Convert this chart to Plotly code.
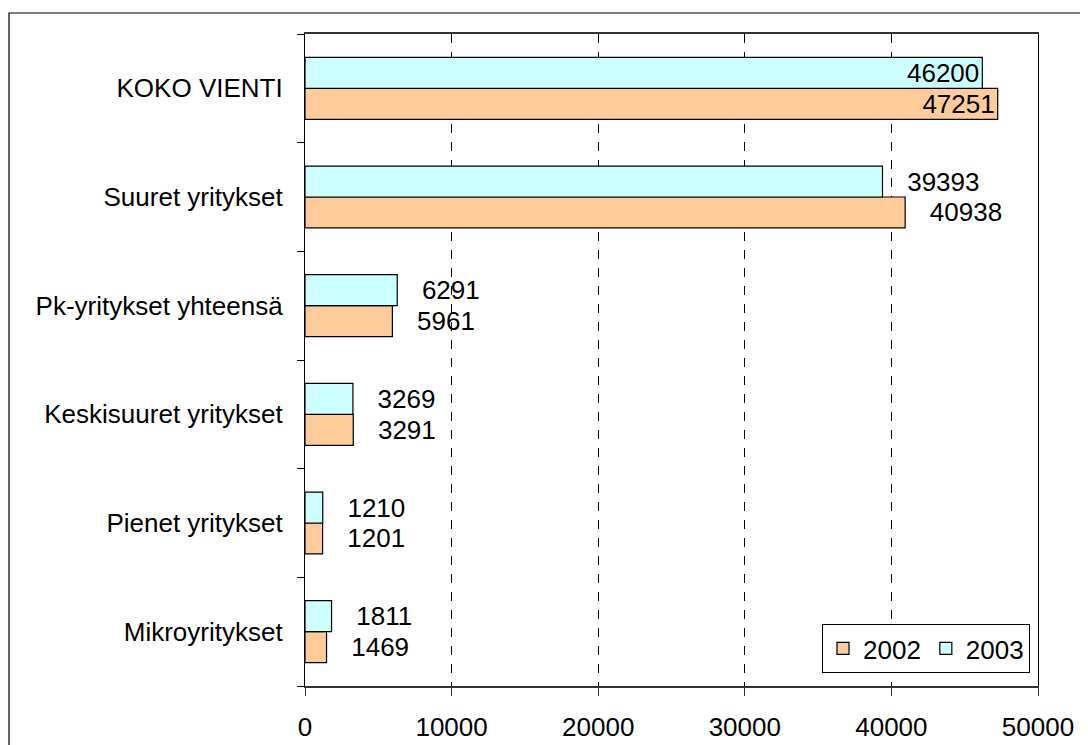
import plotly.graph_objects as go

categories = ["KOKO VIENTI", "Suuret yritykset", "Pk-yritykset yhteensä",
              "Keskisuuret yritykset", "Pienet yritykset", "Mikroyritykset"]
values_2002 = [47251, 40938, 5961, 3291, 1201, 1469]
values_2003 = [46200, 39393, 6291, 3269, 1210, 1811]
x_ticks = [0, 10000, 20000, 30000, 40000, 50000]

FONT = "Liberation Sans, Arial, sans-serif"
FS = 26
PAD = "\u00a0\u00a0\u00a0"

def labels(vals):
    return [str(v) if c == "KOKO VIENTI" else PAD + str(v) for c, v in zip(categories, vals)]

def positions():
    return ["inside" if c == "KOKO VIENTI" else "outside" for c in categories]

fig = go.Figure()
fig.add_trace(go.Bar(
    name="2002", y=categories, x=values_2002, orientation="h",
    marker=dict(color="#FFCC99", line=dict(color="black", width=1.2)),
    text=labels(values_2002), textposition=positions(), insidetextanchor="end",
    textfont=dict(family=FONT, size=FS, color="black"), constraintext="none",
))
fig.add_trace(go.Bar(
    name="2003", y=categories, x=values_2003, orientation="h",
    marker=dict(color="#CCFFFF", line=dict(color="black", width=1.2)),
    text=labels(values_2003), textposition=positions(), insidetextanchor="end",
    textfont=dict(family=FONT, size=FS, color="black"), constraintext="none",
))

OFF = 8  # page body margin
W, H = 1088 - OFF, 745 - OFF
L, R, T, B = 305 - OFF, 1038 - OFF, 34 - OFF, 686 - OFF

def px(x):
    return (x - OFF - L) / (R - L)

def py(y):
    return (B - (y - OFF)) / (B - T)

fig.update_layout(
    width=W, height=H,
    margin=dict(l=L, r=W - R, t=T, b=H - B, pad=0, autoexpand=False),
    paper_bgcolor="white", plot_bgcolor="white",
    barmode="group", bargap=0.43, bargroupgap=0,
    font=dict(family=FONT, size=FS, color="black"),
    showlegend=True,
    legend=dict(orientation="h", x=px(1030), xanchor="right", y=py(673), yanchor="bottom",
                bordercolor="black", borderwidth=1, bgcolor="white",
                font=dict(family=FONT, size=FS, color="black"),
                traceorder="normal", itemwidth=30),
    xaxis=dict(range=[0, 50000], tickvals=x_ticks, ticktext=[str(v) for v in x_ticks],
               showgrid=True, gridcolor="black", griddash="dash", gridwidth=1,
               showline=True, linecolor="#333333", linewidth=1.5, mirror=True,
               ticks="outside", ticklen=8, tickcolor="#333333", tickwidth=1,
               ticklabelstandoff=9, zeroline=False, automargin=False,
               tickfont=dict(family=FONT, size=FS, color="black")),
    yaxis=dict(categoryorder="array", categoryarray=categories[::-1],
               showgrid=False, showline=True, linecolor="black", linewidth=1.2, mirror=True,
               ticks="outside", ticklen=7, tickcolor="black", tickson="boundaries",
               ticklabelstandoff=16, automargin=False,
               tickfont=dict(family=FONT, size=FS, color="black")),
    shapes=[dict(type="rect", xref="paper", yref="paper",
                 x0=px(9), x1=px(1100), y0=py(765), y1=py(13),
                 line=dict(color="black", width=1.2), fillcolor="rgba(0,0,0,0)", layer="below")],
)

fig.write_html("out.html")
